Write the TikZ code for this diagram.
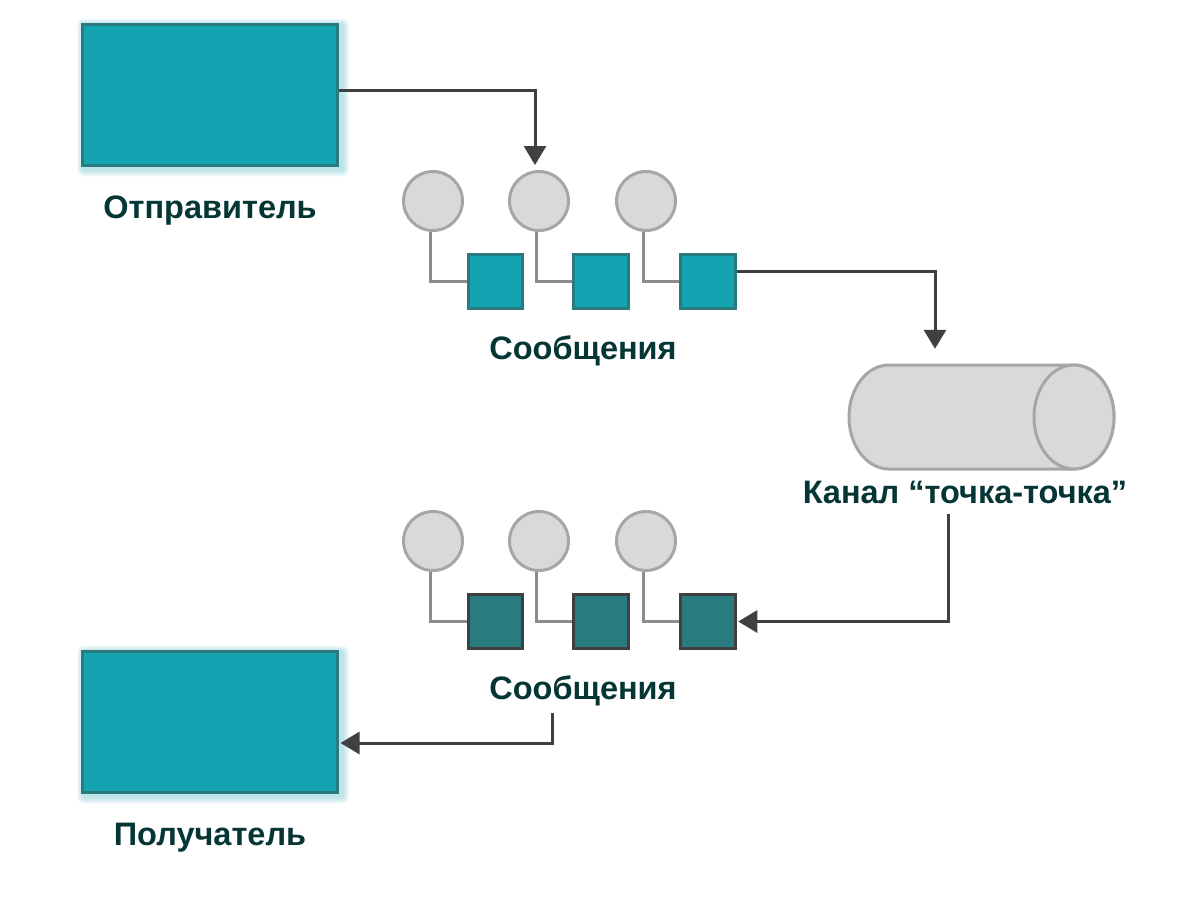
\documentclass[tikz,border=0pt]{standalone}
\usepackage{fontspec}
\setmainfont{Liberation Sans}
\usetikzlibrary{arrows.meta,backgrounds,calc}
\definecolor{tealfill}{HTML}{14A3B1}
\definecolor{tealedge}{HTML}{2A7B7F}
\definecolor{darkedge}{HTML}{404040}
\definecolor{circfill}{HTML}{D9D9D9}
\definecolor{circedge}{HTML}{A6A6A6}
\definecolor{linkgray}{HTML}{8C8C8C}
\definecolor{arrowgray}{HTML}{404040}
\definecolor{textcol}{HTML}{053535}
\definecolor{glowcol}{HTML}{8FD3DA}
\tikzset{
  tealbox/.style={draw=tealedge, fill=tealfill, line width=3pt, minimum width=255pt, minimum height=141pt, inner sep=0pt},
  msgcirc/.style={circle, draw=circedge, fill=circfill, line width=3pt, minimum size=59pt, inner sep=0pt},
  msgsq/.style={draw=tealedge, fill=tealfill, line width=3pt, minimum size=54.5pt, inner sep=0pt},
  msgsqdark/.style={draw=darkedge, fill=tealedge, line width=3pt, minimum size=54.5pt, inner sep=0pt},
  link/.style={draw=linkgray, line width=3pt},
  arr/.style={draw=arrowgray, line width=3pt, -{Triangle[length=19pt,width=22pt]}},
  lbl/.style={text=textcol, font=\fontsize{32.5}{38}\selectfont\bfseries, inner sep=0pt, anchor=base},
  cyl/.style={draw=circedge, fill=circfill, line width=3pt}
}
\newcommand\glowbox[1]{%
  \foreach \k in {1,...,7}{%
    \fill[glowcol,opacity=0.11,rounded corners=\k pt]
      ([xshift={3pt-\k pt},yshift={-3pt+\k pt}]#1.north west) rectangle
      ([xshift={3pt+\k pt},yshift={-3pt-\k pt}]#1.south east);}}
\begin{document}
\begin{tikzpicture}[x=1pt,y=-1pt]
\path[use as bounding box] (0,0) rectangle (1200,900);

% sender / receiver
\node[tealbox] (snd) at (210,94.5) {};
\node[tealbox] (rcv) at (210,721.5) {};
\node[lbl] (sndl) at (210,218) {Отправитель};
\node[lbl] (rcvl) at (210,845) {Получатель};

% top messages
\node[msgcirc] (a1) at (433,201) {};
\node[msgcirc] (a2) at (539,201) {};
\node[msgcirc] (a3) at (646,201) {};
\node[msgsq] (s1) at (495.5,281.5) {};
\node[msgsq] (s2) at (601,281.5) {};
\node[msgsq] (s3) at (708,281.5) {};
\node[lbl] (msg1) at (583,359) {Сообщения};

% bottom messages
\node[msgcirc] (b1) at (433,541) {};
\node[msgcirc] (b2) at (539,541) {};
\node[msgcirc] (b3) at (646,541) {};
\node[msgsqdark] (t1) at (495.5,621.5) {};
\node[msgsqdark] (t2) at (601,621.5) {};
\node[msgsqdark] (t3) at (708,621.5) {};
\node[lbl] (msg2) at (583,699) {Сообщения};

% channel cylinder
\node[minimum width=265pt, minimum height=104pt, inner sep=0pt] (ch) at (981.5,417) {};
\draw[cyl] (889,365) -- (1074,365)
  arc[start angle=90, end angle=-90, x radius=40pt, y radius=52pt]
  -- (889,469)
  arc[start angle=270, end angle=90, x radius=40pt, y radius=52pt] -- cycle;
\draw[cyl] (1074,417) ellipse [x radius=40pt, y radius=52pt];
\node[lbl] (chl) at (965,503) {Канал “точка-точка”};

% background and glow behind boxes
\begin{pgfonlayer}{background}
\fill[white] (0,0) rectangle (1200,900);
\glowbox{snd}
\glowbox{rcv}
\end{pgfonlayer}

% circle-to-square links
\foreach \c/\s in {a1/s1,a2/s2,a3/s3,b1/t1,b2/t2,b3/t3}{
  \draw[link] ([xshift=-3pt]\c.south) |- (\s.west);
}

% arrows
\draw[arr] ([yshift=4.5pt]snd.east) -| ([xshift=-4pt,yshift=5pt]a2.north);
\draw[arr] ([yshift=10pt]s3.east) -| ([xshift=-46.5pt,yshift=16pt]ch.north);
\draw[arr] ([xshift=-17pt,yshift=-11pt]chl.base) |- ([xshift=1.5pt]t3.east);
\draw[arr] ([xshift=-31pt,yshift=-14pt]msg2.base) |- ([xshift=1.5pt,yshift=-21.5pt]rcv.east);
\end{tikzpicture}
\end{document}
